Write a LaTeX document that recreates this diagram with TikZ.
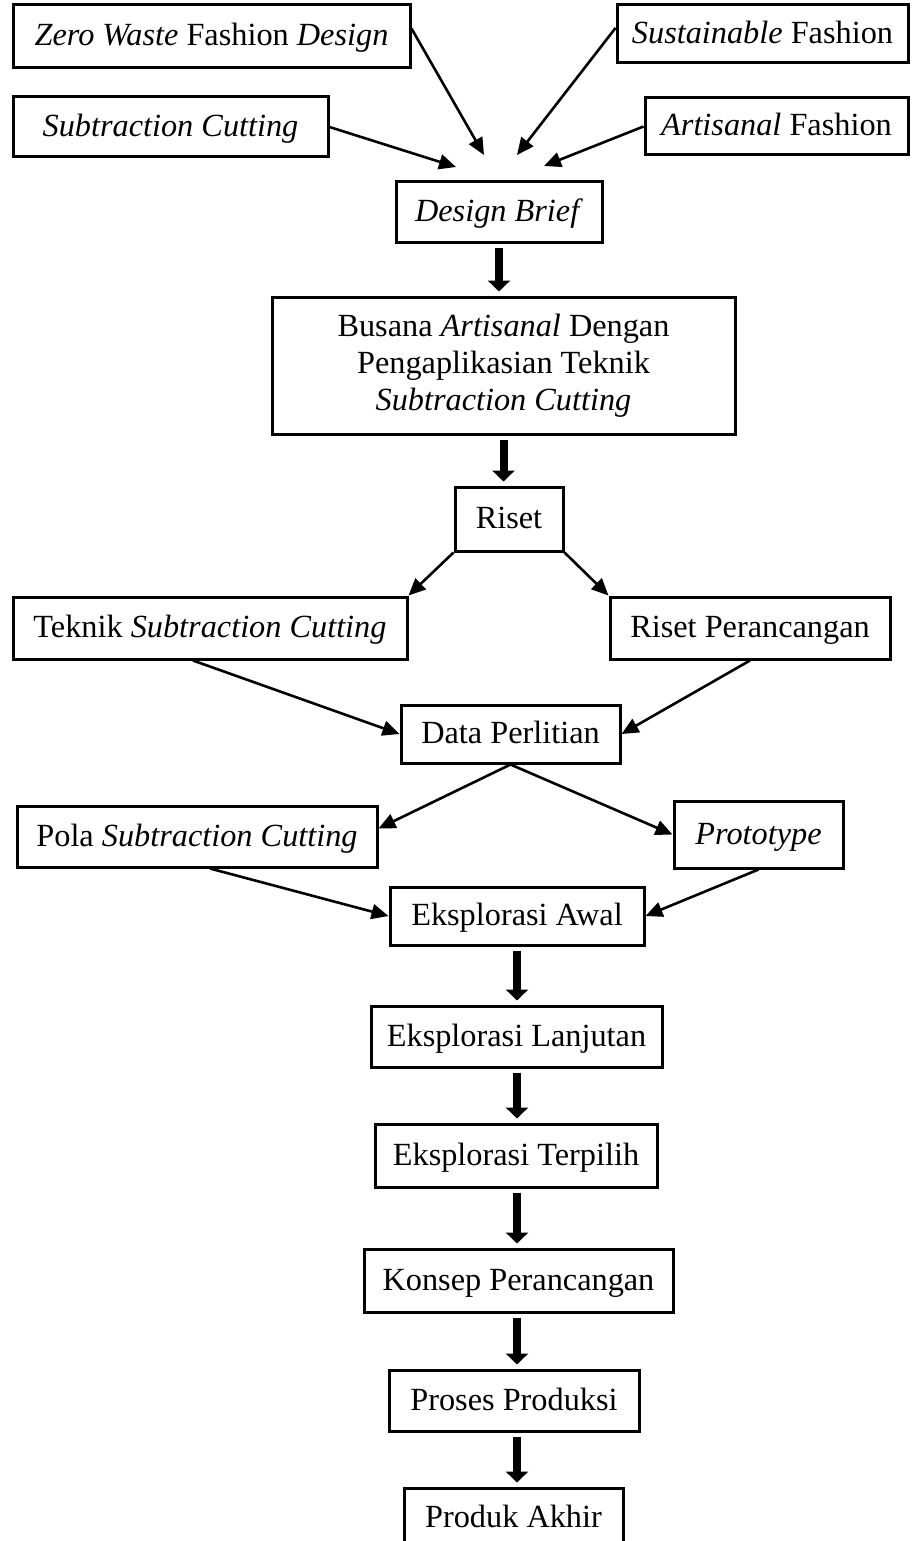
\documentclass[tikz,border=0pt]{standalone}
\usepackage{fontspec}
\setmainfont{Liberation Serif}
\usetikzlibrary{arrows.meta, calc}
\newcommand{\BoxHeight}{61pt}
\tikzset{Box/.style={
    draw=black,
    line width=3pt,
    inner sep=0pt,
    minimum height=\BoxHeight,
    text height=23pt,
    text depth=4pt,
    align=center
    }
}
\tikzset{TallBox/.style={
    draw=black,
    line width=3pt,
    inner sep=0pt,
    align=center
    }
}
\tikzset{ThickArrow/.style={
    line width=8pt,
    -{Triangle[length=11pt,width=22pt]},
    shorten <=4pt,
    shorten >=4pt
    }
}
\begin{document}
\begin{tikzpicture}[x=1pt, y=1pt, line width=2.6pt, font=\fontsize{32.3}{37}\selectfont, >={Triangle[length=17pt,width=15pt]}]

    \useasboundingbox (0,0) rectangle (912,-1541);

    \node (ZeroWaste) [Box, minimum width=397pt, minimum height=63pt] at (211.5,-36.5) {\textit{Zero Waste} Fashion \textit{Design}};
    \node (Sustain) [Box, minimum width=291pt, minimum height=58pt] at (762.5,-34) {\textit{Sustainable} Fashion};
    \node (SubCut) [Box, minimum width=315pt, minimum height=60pt] at (170.5,-127) {\textit{Subtraction Cutting}};
    \node (ArtFashion) [Box, minimum width=263pt, minimum height=57pt] at (776.5,-126.5) {\textit{Artisanal} Fashion};

    \coordinate (TipA) at (484,-155);
    \coordinate (TipB) at (517,-155);
    \coordinate (TipC) at (456,-167);
    \coordinate (TipD) at (544,-166);
        \draw[->] ([yshift=8pt]ZeroWaste.east) -- (TipA);
        \draw[->] ([yshift=6pt]Sustain.west) -- (TipB);
        \draw[->] (SubCut.east) -- (TipC);
        \draw[->] (ArtFashion.west) -- (TipD);

    \node (Brief) [Box, minimum width=206pt, minimum height=60pt] at (499,-212) {\textit{Design Brief}};

    \node (Busana) [TallBox, minimum width=463pt, minimum height=137pt] at (503.5,-365.5) {Busana \textit{Artisanal} Dengan\\ Pengaplikasian Teknik\\ \textit{Subtraction Cutting}};

    \node (Riset) [Box, minimum width=108pt, minimum height=64pt] at (509,-519) {Riset};

   \draw[ThickArrow] (Brief.south) -- (Brief.south |- Busana.north);
   \draw[ThickArrow] (Busana.south) -- (Busana.south |- Riset.north);

    \node (Teknik) [Box, minimum width=394pt, minimum height=62pt] at (210,-628) {Teknik \textit{Subtraction Cutting}};
    \node (RisetPer) [Box, minimum width=280pt, minimum height=62pt] at (750,-628) {Riset Perancangan};
    \node (Data) [Box, minimum width=219pt, minimum height=58pt] at (510.5,-734) {Data Perlitian};

   \draw[->] (Riset.south west) -- (Teknik.north east);
   \draw[->] (Riset.south east) -- (RisetPer.north west);
   \draw[->] ([xshift=-17pt]Teknik.south) -- (Data.west);
   \draw[->] (RisetPer.south) -- (Data.east);

    \node (Pola) [Box, minimum width=360pt] at (197,-836.5) {Pola \textit{Subtraction Cutting}};
    \node (Proto) [Box, minimum width=169pt, minimum height=67pt] at (758.5,-834.5) {\textit{Prototype}};
    \node (EksAwal) [Box, minimum width=254pt, minimum height=58pt] at (517,-916) {Eksplorasi Awal};

   \draw[->] (Data.south) -- ([yshift=8pt]Pola.east);
   \draw[->] (Data.south) -- (Proto.west);
   \draw[->] ([xshift=13pt]Pola.south) -- (EksAwal.west);
   \draw[->] (Proto.south) -- (EksAwal.east);

    \node (EksLanjut) [Box, minimum width=291pt] at (516.5,-1036.5) {Eksplorasi Lanjutan};
    \node (EksPilih) [Box, minimum width=282pt, minimum height=63pt] at (516,-1155.5) {Eksplorasi Terpilih};
    \node (Konsep) [Box, minimum width=309pt, minimum height=63pt] at (518.5,-1280.5) {Konsep Perancangan};
    \node (Proses) [Box, minimum width=250pt] at (514,-1400.5) {Proses Produksi};
    \node (Produk) [Box, minimum width=219pt, minimum height=60pt] at (513.5,-1518) {Produk Akhir};

   % vertical chain, all on the axis of Eksplorasi Awal
   \draw[ThickArrow] (EksAwal.south) -- (EksAwal.south |- EksLanjut.north);
   \draw[ThickArrow] (EksAwal.south |- EksLanjut.south) -- (EksAwal.south |- EksPilih.north);
   \draw[ThickArrow] (EksAwal.south |- EksPilih.south) -- (EksAwal.south |- Konsep.north);
   \draw[ThickArrow] (EksAwal.south |- Konsep.south) -- (EksAwal.south |- Proses.north);
   \draw[ThickArrow] (EksAwal.south |- Proses.south) -- (EksAwal.south |- Produk.north);

\end{tikzpicture}
\end{document}
